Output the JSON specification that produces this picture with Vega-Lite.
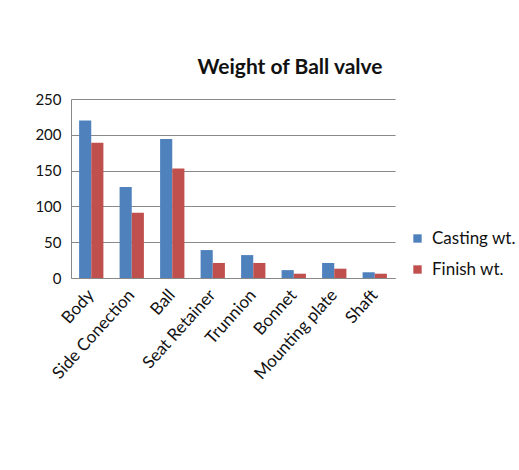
{
  "$schema": "https://vega.github.io/schema/vega-lite/v6.json",
  "autosize": {"type": "none"},
  "padding": {"left": 71, "top": 99, "right": 124, "bottom": 192},
  "width": 324,
  "height": 179,
  "background": "white",
  "title": {"text": "Weight of Ball valve", "font": "Lato", "fontSize": 21, "fontWeight": "bold", "color": "#111", "anchor": "middle", "dx": 57, "offset": 14},
  "data": {"values": [
    {"part": "Body", "series": "Casting wt.", "weight": 220},
    {"part": "Body", "series": "Finish wt.", "weight": 189},
    {"part": "Side Conection", "series": "Casting wt.", "weight": 127},
    {"part": "Side Conection", "series": "Finish wt.", "weight": 91},
    {"part": "Ball", "series": "Casting wt.", "weight": 194},
    {"part": "Ball", "series": "Finish wt.", "weight": 153},
    {"part": "Seat Retainer", "series": "Casting wt.", "weight": 39},
    {"part": "Seat Retainer", "series": "Finish wt.", "weight": 21},
    {"part": "Trunnion", "series": "Casting wt.", "weight": 32},
    {"part": "Trunnion", "series": "Finish wt.", "weight": 21},
    {"part": "Bonnet", "series": "Casting wt.", "weight": 11},
    {"part": "Bonnet", "series": "Finish wt.", "weight": 6},
    {"part": "Mounting plate", "series": "Casting wt.", "weight": 21},
    {"part": "Mounting plate", "series": "Finish wt.", "weight": 13},
    {"part": "Shaft", "series": "Casting wt.", "weight": 8},
    {"part": "Shaft", "series": "Finish wt.", "weight": 6}
  ]},
  "mark": {"type": "bar"},
  "encoding": {
    "x": {"field": "part", "type": "nominal", "sort": null,
      "scale": {"paddingInner": 0.4, "paddingOuter": 0.2},
      "axis": {"title": null, "labelAngle": -48, "labelFont": "Lato", "labelFontSize": 17, "labelColor": "#111", "ticks": false, "domainColor": "#888", "labelPadding": 14}},
    "xOffset": {"field": "series", "type": "nominal"},
    "y": {"field": "weight", "type": "quantitative",
      "scale": {"domain": [0, 250]},
      "axis": {"title": null, "values": [0, 50, 100, 150, 200, 250], "labelFont": "Lato", "labelFontSize": 15, "labelColor": "#111", "ticks": false, "labelPadding": 10, "domainColor": "#888", "gridColor": "#888", "gridWidth": 1}},
    "color": {"field": "series", "type": "nominal",
      "scale": {"domain": ["Casting wt.", "Finish wt."], "range": ["#4F81BD", "#C0504D"]},
      "legend": {"title": null, "orient": "none", "legendX": 338, "legendY": 131, "symbolType": "square", "symbolSize": 70, "labelFont": "Lato", "labelFontSize": 17, "labelColor": "#111", "rowPadding": 13, "labelOffset": 6, "symbolStrokeWidth": 0}}
  },
  "config": {"view": {"stroke": null}}
}
